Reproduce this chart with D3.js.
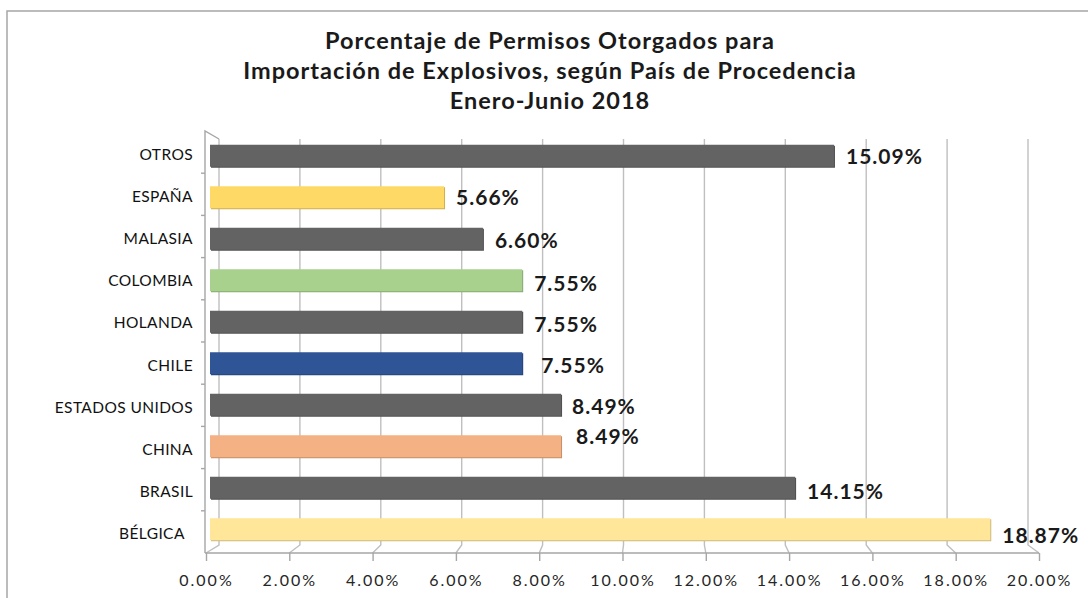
<!DOCTYPE html>
<html>
<head>
<meta charset="utf-8">
<script src="https://cdn.jsdelivr.net/npm/d3@7"></script>
<style>
  body { margin: 0; background: #fff; }
  svg { display: block; }
</style>
</head>
<body>
<svg id="chart" width="1088" height="598"></svg>
<script>
// Horizontal bar chart in the old Excel "3D" look (back wall + floor).

var titleLines = [
  "Porcentaje de Permisos Otorgados para",
  "Importación de Explosivos, según País de Procedencia",
  "Enero-Junio 2018"
];
// top to bottom as drawn
var countries = ["OTROS", "ESPAÑA", "MALASIA", "COLOMBIA", "HOLANDA", "CHILE",
                 "ESTADOS UNIDOS", "CHINA", "BRASIL", "BÉLGICA\u00a0\u00a0"];
var percents = [15.09, 5.66, 6.60, 7.55, 7.55, 7.55, 8.49, 8.49, 14.15, 18.87];
var barColors = ["#636363", "#ffd966", "#636363", "#a9d18e", "#636363", "#2f5597",
                 "#636363", "#f4b183", "#636363", "#ffe699"];
var xTicks = [0, 2, 4, 6, 8, 10, 12, 14, 16, 18, 20];

// labels were dragged by hand in the original
var labelDx = [0, 0, 0, 0, 0, 7, -1, 3, 0, 0];
var labelDy = [1, 0, 2, 3, 3, 2, 2, -9.5, 4, 6];

var svg = d3.select("#chart");

// chart area border (runs off the right/bottom of the shot)
svg.append("rect")
  .attr("x", 7).attr("y", 11)
  .attr("width", 1200).attr("height", 700)
  .attr("fill", "#fff")
  .attr("stroke", "#a6a6a6")
  .attr("stroke-width", 1.5);

// title
svg.append("g").selectAll("text")
  .data(titleLines)
  .join("text")
  .attr("x", 550)
  .attr("y", function(d, i) { return 49 + i * 30; })
  .attr("text-anchor", "middle")
  .attr("font-family", "Lato, 'Open Sans', sans-serif")
  .attr("font-size", 23.5)
  .attr("font-weight", "bold")
  .attr("letter-spacing", 1)
  .attr("fill", "#1a1a1a")
  .text(function(d) { return d; });

// front edge of the floor vs back wall: a bit of perspective
var xFront = d3.scaleLinear().domain([0, 20]).range([206, 1039]);
var xBack = d3.scaleLinear().domain([0, 20]).range([219, 1028]);
var xBar = d3.scaleLinear().domain([0, 20]).range([210, 1037]);

var yAxisBand = d3.scaleBand().domain(countries).range([131, 553]);
var yBar = d3.scaleBand().domain(countries).range([135, 550]).paddingInner(0.47).paddingOuter(0.235);

var floorY = 553, backBottom = 545, backTop = 139;
var gridColor = "#bfbfbf";

// back wall gridlines, bent onto the floor
svg.append("g").selectAll("path")
  .data(xTicks)
  .join("path")
  .attr("fill", "none")
  .attr("stroke", gridColor)
  .attr("stroke-width", 1.4)
  .attr("d", function(t) {
    return "M" + xBack(t) + "," + backTop +
      "L" + xBack(t) + "," + backBottom +
      "L" + xFront(t) + "," + floorY;
  });

// left wall edge
svg.append("path")
  .attr("fill", "none")
  .attr("stroke", "#a6a6a6")
  .attr("stroke-width", 1.4)
  .attr("d", "M" + (xFront(0) - 1) + "," + floorY + "V" + yAxisBand.range()[0] +
    "L" + xBack(0) + "," + backTop);

// category tick marks between bands
var bandEdges = countries.slice(1).map(function(c) { return yAxisBand(c); });
svg.append("g").selectAll("line")
  .data(bandEdges)
  .join("line")
  .attr("x1", xFront(0) - 5).attr("x2", xFront(0) - 1)
  .attr("y1", function(d) { return d; })
  .attr("y2", function(d) { return d; })
  .attr("stroke", "#a6a6a6")
  .attr("stroke-width", 1.4);

// bottom value axis
var fmt = d3.format(".2f");
var xAxis = d3.axisBottom(xFront)
  .tickValues(xTicks)
  .tickSize(8)
  .tickPadding(14)
  .tickFormat(function(d) { return fmt(d) + "%"; });

var gx = svg.append("g")
  .attr("transform", "translate(0," + floorY + ")")
  .call(xAxis);
gx.select(".domain").attr("stroke", "#a6a6a6").attr("stroke-width", 1.4)
  .attr("d", "M" + (xFront(0) - 1) + ",0H" + xFront(20));
gx.selectAll(".tick line").attr("stroke", "#a6a6a6").attr("stroke-width", 1.4);
gx.selectAll(".tick text")
  .attr("font-family", "Lato, sans-serif")
  .attr("font-size", 16)
  .attr("letter-spacing", 2)
  .attr("fill", "#262626");

// category names
svg.append("g").selectAll("text")
  .data(countries)
  .join("text")
  .attr("x", 193)
  .attr("y", function(d) { return yAxisBand(d) + yAxisBand.bandwidth() / 2 + 2; })
  .attr("dy", "0.35em")
  .attr("text-anchor", "end")
  .attr("font-family", "Lato, sans-serif")
  .attr("font-size", 15.5)
  .attr("letter-spacing", 0.4)
  .attr("fill", "#111")
  .text(function(d) { return d; });

// bars, with a thin darker edge for the bevel
var bars = svg.append("g").selectAll("g")
  .data(percents)
  .join("g");

bars.append("rect")
  .attr("x", xBar(0) + 1)
  .attr("y", function(d, i) { return yBar(countries[i]) + 1; })
  .attr("width", function(d) { return xBar(d) - xBar(0); })
  .attr("height", yBar.bandwidth())
  .attr("fill", function(d, i) { return d3.color(barColors[i]).darker(0.6); });

bars.append("rect")
  .attr("x", xBar(0))
  .attr("y", function(d, i) { return yBar(countries[i]); })
  .attr("width", function(d) { return xBar(d) - xBar(0); })
  .attr("height", yBar.bandwidth())
  .attr("fill", function(d, i) { return barColors[i]; });

// data labels
svg.append("g").selectAll("text")
  .data(percents)
  .join("text")
  .attr("x", function(d, i) { return xBar(d) + 12 + labelDx[i]; })
  .attr("y", function(d, i) { return yBar(countries[i]) + yBar.bandwidth() / 2 + labelDy[i]; })
  .attr("dy", "0.35em")
  .attr("font-family", "Lato, sans-serif")
  .attr("font-size", 21)
  .attr("font-weight", "bold")
  .attr("letter-spacing", 1)
  .attr("fill", "#1a1a1a")
  .text(function(d) { return fmt(d) + "%"; });
</script>
</body>
</html>
